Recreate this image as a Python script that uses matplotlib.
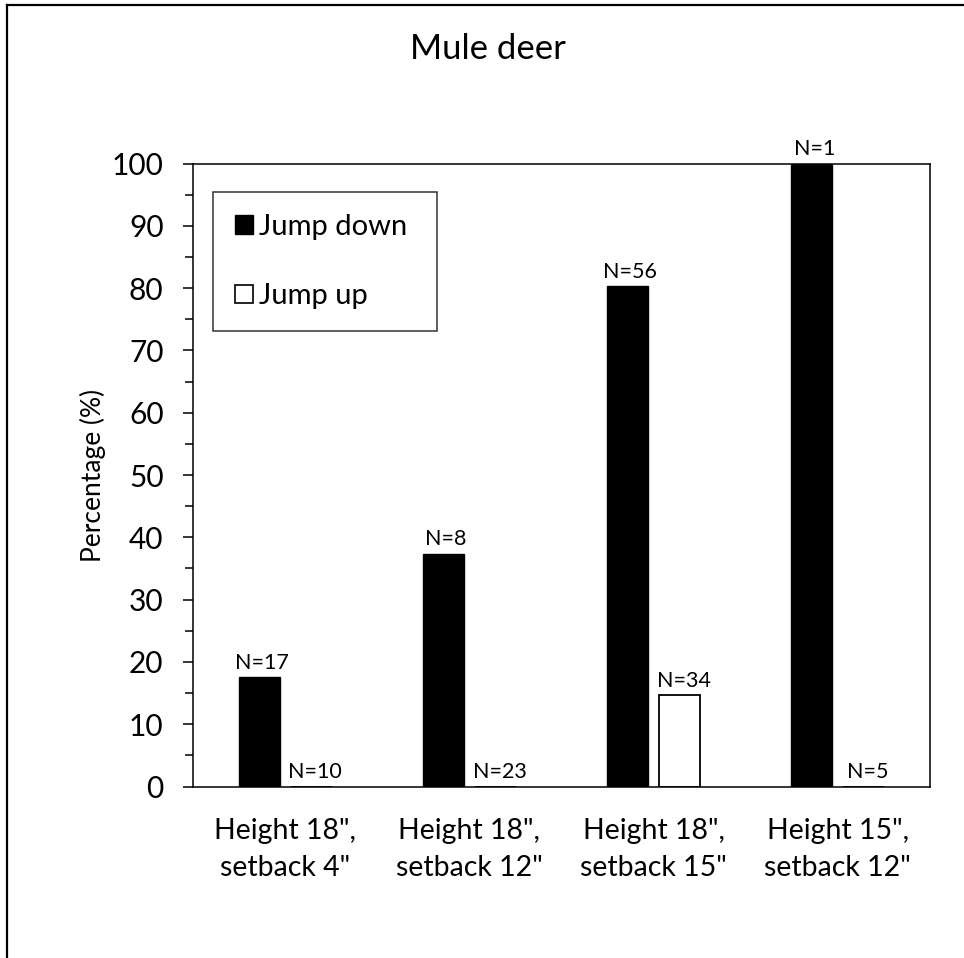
import matplotlib
matplotlib.use("Agg")
import matplotlib.pyplot as plt
from matplotlib.lines import Line2D
from matplotlib.patches import Patch
import numpy as np

plt.rcParams['font.family'] = ['Lato', 'DejaVu Sans']

# Data
categories = ['Height 18",\nsetback 4"', 'Height 18",\nsetback 12"',
              'Height 18",\nsetback 15"', 'Height 15",\nsetback 12"']
jump_down = [17.6, 37.4, 80.3, 100.0]
jump_up = [0.0, 0.0, 14.7, 0.0]
n_down = ["N=17", "N=8", "N=56", "N=1"]
n_up = ["N=10", "N=23", "N=34", "N=5"]

fig = plt.figure(figsize=(9.64, 9.58), dpi=100)
ax = fig.add_axes([0.2002, 0.179, 0.7645, 0.6503])

x = np.arange(len(categories))
width = 0.223
offset = 0.141

bars_down = ax.bar(x - offset, jump_down, width, color='black', edgecolor='black',
                   linewidth=1.0, label='Jump down', zorder=2)
bars_up = ax.bar(x + offset, jump_up, width, color='white', edgecolor='black',
                 linewidth=1.3, label='Jump up', zorder=2)

# N labels above bars
for b, t in zip(bars_down, n_down):
    ax.annotate(t, (b.get_x() + b.get_width() / 2, b.get_height()),
                xytext=(2, 3), textcoords='offset points', ha='center', va='bottom',
                fontsize=15.5, annotation_clip=False)
for b, t in zip(bars_up, n_up):
    ax.annotate(t, (b.get_x() + b.get_width() / 2, b.get_height()),
                xytext=(3, 3), textcoords='offset points', ha='center', va='bottom',
                fontsize=15.5, annotation_clip=False)

ax.set_xlim(-0.5, 3.5)
ax.set_ylim(0, 100)
ax.set_yticks(np.arange(0, 101, 10))
ax.set_yticks(np.arange(5, 100, 10), minor=True)
ax.set_xticks(x)
ax.set_xticklabels(categories, fontsize=20.5, linespacing=1.5)
ax.tick_params(axis='x', length=0, pad=23)
ax.tick_params(axis='y', which='major', length=7.2, width=1.1, labelsize=21.5, pad=14)
ax.tick_params(axis='y', which='minor', length=5.8, width=1.1)
for s in ax.spines.values():
    s.set_linewidth(1.1)
ax.set_ylabel("Percentage (%)", fontsize=19, labelpad=4)

handles = [Patch(facecolor='black', edgecolor='black', label='Jump down'),
           Patch(facecolor='white', edgecolor='black', linewidth=1.2, label='Jump up')]
leg = ax.legend(handles=handles, loc='upper left',
                bbox_to_anchor=(0.0276, 0.7364, 0.304, 0.2183), mode='expand',
                fontsize=21, handlelength=0.6, handleheight=0.6, handletextpad=0.2,
                labelspacing=1.5, borderpad=0.75, borderaxespad=0, fancybox=False,
                frameon=True, edgecolor='black')
leg.get_frame().set_linewidth(1.1)

fig.text(0.506, 0.949, "Mule deer", ha='center', va='center', fontsize=25)

# outer chart border
fig.add_artist(Line2D([7 / 964, 7 / 964], [0, 1 - 5 / 958], color='black', lw=1.6))
fig.add_artist(Line2D([7 / 964, 1], [1 - 5 / 958, 1 - 5 / 958], color='black', lw=1.6))

plt.savefig("out.png", dpi=100)
plt.close()
